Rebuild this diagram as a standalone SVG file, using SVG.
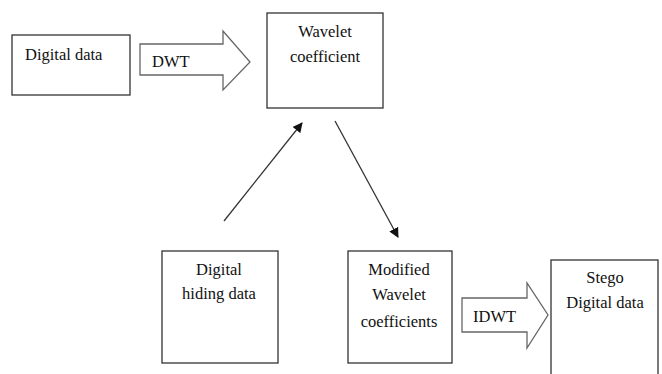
<svg xmlns="http://www.w3.org/2000/svg" width="662" height="374" viewBox="0 0 662 374">
<style>
.box{fill:#fff;stroke:#333;stroke-width:1.3}
.bigarrow{fill:#fff;stroke:#666;stroke-width:1.3}
text{font-family:'Liberation Serif','Times New Roman','DejaVu Serif',serif;font-size:16.5px;fill:#111}
.c{text-anchor:middle}
.ln{stroke:#333;stroke-width:1.3;fill:none;marker-end:url(#ah)}
</style>
<defs>
<marker id="ah" viewBox="0 0 10 10" refX="9" refY="5" markerWidth="10" markerHeight="10" markerUnits="userSpaceOnUse" orient="auto">
<path d="M0,0 L10,5 L0,10 z" fill="#111"/>
</marker>
</defs>
<rect width="662" height="374" fill="#fff"/>
<g id="digital-data">
<rect class="box" x="12" y="35" width="118" height="60"/>
<text x="25" y="60" font-family="Liberation Serif, serif">Digital data</text>
</g>
<g id="dwt">
<path class="bigarrow" d="M140,44 L223,44 L223,31 L250,62 L223,90 L223,75 L140,75 Z"/>
<text x="152" y="67" font-family="Liberation Serif, serif">DWT</text>
</g>
<g id="wavelet-coefficient">
<rect class="box" x="267" y="13" width="116" height="95"/>
<text class="c" x="325" y="37" font-family="Liberation Serif, serif">Wavelet</text>
<text class="c" x="325" y="62" font-family="Liberation Serif, serif">coefficient</text>
</g>
<g id="digital-hiding-data">
<rect class="box" x="162" y="251" width="116" height="112"/>
<text class="c" x="219" y="275" font-family="Liberation Serif, serif">Digital</text>
<text class="c" x="219" y="299" font-family="Liberation Serif, serif">hiding data</text>
</g>
<g id="modified-wavelet">
<rect class="box" x="348" y="251" width="104" height="112"/>
<text class="c" x="399" y="275" font-family="Liberation Serif, serif">Modified</text>
<text class="c" x="399" y="300" font-family="Liberation Serif, serif">Wavelet</text>
<text class="c" x="399" y="327" font-family="Liberation Serif, serif">coefficients</text>
</g>
<g id="idwt">
<path class="bigarrow" d="M462,298 L527,298 L527,283 L548,315 L527,348 L527,332 L462,332 Z"/>
<text x="473" y="322" font-family="Liberation Serif, serif">IDWT</text>
</g>
<g id="stego-digital-data">
<rect class="box" x="551" y="260" width="107" height="130"/>
<text class="c" x="605" y="283" font-family="Liberation Serif, serif">Stego</text>
<text class="c" x="605" y="308" font-family="Liberation Serif, serif">Digital data</text>
</g>
<g id="connectors">
<line class="ln" x1="224" y1="221" x2="302" y2="123"/>
<line class="ln" x1="335" y1="121" x2="398" y2="237"/>
</g>
</svg>
